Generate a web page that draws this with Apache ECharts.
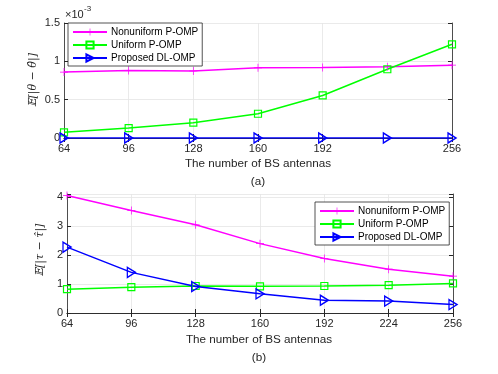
<!DOCTYPE html>
<html>
<head>
<meta charset="utf-8">
<script src="https://cdn.jsdelivr.net/npm/echarts@6/dist/echarts.min.js"></script>
<style>
  html, body { margin: 0; padding: 0; background: #fff; }
  #chart { width: 498px; height: 374px; }
</style>
</head>
<body>
<div id="chart"></div>
<script>
  // x categories (number of BS antennas)
  var antennas = ['64', '96', '128', '160', '192', '224', '256'];
  // (a) angle error, in units of 1e-3
  var thetaNonuniform = [0.86, 0.88, 0.875, 0.915, 0.92, 0.93, 0.95];
  var thetaUniform = [0.074, 0.13, 0.2, 0.316, 0.555, 0.897, 1.222];
  var thetaProposed = [0, 0, 0, 0, 0, 0, 0];
  // (b) distance error
  var tauNonuniform = [4.05, 3.53, 3.04, 2.39, 1.88, 1.51, 1.27];
  var tauUniform = [0.82, 0.89, 0.93, 0.92, 0.93, 0.96, 1.02];
  var tauProposed = [2.27, 1.40, 0.91, 0.66, 0.44, 0.41, 0.29];
  var seriesNames = ['Nonuniform P-OMP', 'Uniform P-OMP', 'Proposed DL-OMP'];

  var axisColor = '#262626';
  var gridColor = '#e5e5e5';
  var font = 'Liberation Sans, Arial, sans-serif';

  var plusSym = 'path://M-0.09,-1H0.09V-0.09H1V0.09H0.09V1H-0.09V0.09H-1V-0.09H-0.09Z';
  var triSym = 'path://M0,0L1,0.5L0,1Z';

  // hide the 224 tick in the top plot like the original
  function skip224(i) { return i !== 5; }

  function xAxes(gi, topPlot) {
    var iv = topPlot ? skip224 : 0;
    return [{
      type: 'category', gridIndex: gi, data: antennas, boundaryGap: false,
      axisLine: { lineStyle: { color: axisColor, width: 0.8 } },
      axisTick: { inside: true, length: 4, interval: iv, lineStyle: { color: axisColor } },
      axisLabel: { interval: iv, color: axisColor, fontSize: 11, fontFamily: font, margin: 5 },
      splitLine: { show: true, interval: iv, lineStyle: { color: gridColor, width: 0.8 } }
    }, {
      type: 'category', gridIndex: gi, data: antennas, boundaryGap: false, position: 'top',
      axisLine: { lineStyle: { color: axisColor, width: 0.8 } },
      axisTick: { inside: true, length: 4, interval: iv, lineStyle: { color: axisColor } },
      axisLabel: { show: false }, splitLine: { show: false }
    }];
  }

  function yAxes(gi, max, interval) {
    return [{
      type: 'value', gridIndex: gi, min: 0, max: max, interval: interval,
      axisLine: { show: true, lineStyle: { color: axisColor, width: 0.8 } },
      axisTick: { show: true, inside: true, length: 4, lineStyle: { color: axisColor } },
      axisLabel: {
        color: axisColor, fontSize: 11, fontFamily: font, margin: 4,
        formatter: function (v) {
          var k = Math.round(v / interval);
          return Math.abs(k * interval - v) < 1e-9 ? String(v) : '';
        }
      },
      splitLine: { lineStyle: { color: gridColor, width: 0.8 } }
    }, {
      type: 'value', gridIndex: gi, min: 0, max: max, interval: interval, position: 'right',
      axisLine: { show: true, lineStyle: { color: axisColor, width: 0.8 } },
      axisTick: { show: true, inside: true, length: 4, lineStyle: { color: axisColor } },
      axisLabel: { show: false }, splitLine: { show: false }
    }];
  }

  function makeSeries(xi, yi, a, b, c) {
    var common = { type: 'line', xAxisIndex: xi, yAxisIndex: yi, z: 3 };
    return [
      Object.assign({}, common, {
        name: seriesNames[0], data: a, symbol: plusSym, symbolSize: 8,
        lineStyle: { color: '#ff00ff', width: 1.5 },
        itemStyle: { color: '#ff00ff' }
      }),
      Object.assign({}, common, {
        name: seriesNames[1], data: b, symbol: 'rect', symbolSize: 7,
        lineStyle: { color: '#00ff00', width: 1.5 },
        itemStyle: { color: 'rgba(0,0,0,0)', borderColor: '#00ff00', borderWidth: 1.2 }
      }),
      Object.assign({}, common, {
        name: seriesNames[2], data: c, symbol: triSym, symbolSize: [8, 10],
        lineStyle: { color: '#0000ff', width: 1.5 },
        itemStyle: { color: 'rgba(0,0,0,0)', borderColor: '#0000ff', borderWidth: 1.4 }
      })
    ];
  }

  function legend(left, top) {
    return {
      orient: 'vertical', left: left, top: top, data: seriesNames,
      itemWidth: 34, itemHeight: 9, itemGap: 3,
      padding: [4, 4, 3, 4],
      backgroundColor: '#fff', borderColor: axisColor, borderWidth: 0.8, borderRadius: 0,
      textStyle: { color: '#000', fontSize: 10, lineHeight: 10, fontFamily: font, padding: [0, 0, 0, -1] }
    };
  }

  var chart = echarts.init(document.getElementById('chart'), null, { renderer: 'canvas' });

  var xa = xAxes(0, true).concat(xAxes(1, false));
  var ya = yAxes(0, 1.5, 0.5).concat(yAxes(1, 4.1, 1));

  var series = makeSeries(0, 0, thetaNonuniform, thetaUniform, thetaProposed)
    .concat(makeSeries(2, 2, tauNonuniform, tauUniform, tauProposed));

  chart.setOption({
    animation: false,
    backgroundColor: '#fff',
    grid: [
      { left: 64, top: 23, width: 388, height: 115 },
      { left: 67, top: 194, width: 386, height: 119 }
    ],
    xAxis: xa,
    yAxis: ya,
    legend: [legend(68, 23), legend(315, 202)],
    series: series,
    graphic: [
      { type: 'text', x: 65, y: 9, style: { text: '×10', fill: axisColor, font: '11px ' + font } },
      { type: 'text', x: 84, y: 5, style: { text: '-3', fill: axisColor, font: '8px ' + font } },
      { type: 'text', x: 258, y: 164, style: { text: 'The number of BS antennas', fill: axisColor, font: '11.7px ' + font, align: 'center', verticalAlign: 'middle' } },
      { type: 'text', x: 258, y: 182, style: { text: '(a)', fill: axisColor, font: '11.7px ' + font, align: 'center', verticalAlign: 'middle' } },
      { type: 'text', x: 259, y: 340, style: { text: 'The number of BS antennas', fill: axisColor, font: '11.7px ' + font, align: 'center', verticalAlign: 'middle' } },
      { type: 'text', x: 259, y: 358, style: { text: '(b)', fill: axisColor, font: '11.7px ' + font, align: 'center', verticalAlign: 'middle' } },
      { type: 'text', x: 33, y: 80, rotation: Math.PI / 2, style: { text: '𝔼[|θ − θ̂|]', fill: axisColor, font: 'italic 11px DejaVu Serif, serif', align: 'center', verticalAlign: 'middle' } },
      { type: 'text', x: 40, y: 250, rotation: Math.PI / 2, style: { text: '𝔼[|τ − τ̂|]', fill: axisColor, font: 'italic 11px DejaVu Serif, serif', align: 'center', verticalAlign: 'middle' } }
    ]
  });
</script>
</body>
</html>
